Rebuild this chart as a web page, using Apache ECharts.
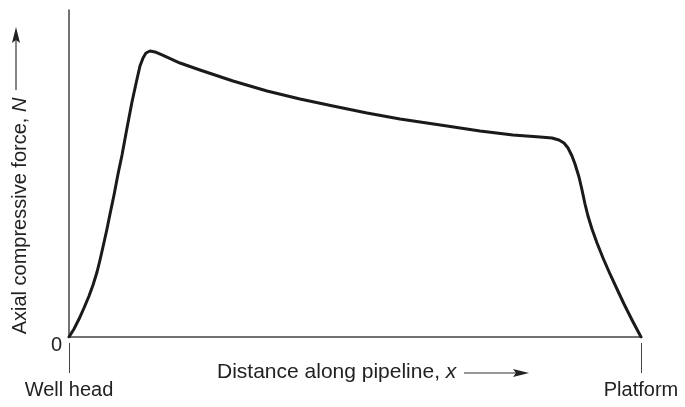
<!DOCTYPE html>
<html><head><meta charset="utf-8">
<script src="https://cdn.jsdelivr.net/npm/echarts@6/dist/echarts.min.js"></script>
<style>html,body{margin:0;padding:0;background:#fff}#c{width:685px;height:407px}</style>
</head><body><div id="c"></div>
<script>
// Distance along pipeline (0 = well head, 100 = platform), arbitrary units
const distance = [0, 0.87, 1.75, 2.62, 3.50, 4.20, 4.90, 5.42, 5.94, 6.64, 7.17, 7.87, 8.57, 9.27, 10.14, 11.01, 11.89, 12.41, 12.94, 13.46, 14.16, 15.03, 16.26, 19.41, 22.90, 28.67, 34.62, 40.38, 46.15, 52.10, 57.87, 66.08, 71.85, 77.62, 82.34, 84.44, 85.66, 86.54, 87.24, 87.94, 88.46, 89.16, 89.69, 90.21, 90.73, 91.43, 92.31, 93.36, 94.58, 95.80, 97.03, 98.43, 100];
// Axial compressive force N, arbitrary units (axis top = 100)
const force = [0, 2.45, 5.50, 8.87, 12.54, 15.90, 19.88, 23.55, 27.52, 33.03, 37.61, 43.43, 49.85, 55.66, 63.91, 71.87, 78.90, 82.87, 85.32, 86.85, 87.46, 87.16, 86.24, 83.79, 81.65, 78.29, 75.23, 72.78, 70.64, 68.50, 66.67, 64.53, 63.00, 61.77, 61.16, 60.86, 60.24, 59.33, 57.80, 55.35, 52.91, 48.93, 44.95, 40.67, 37.00, 33.03, 28.75, 24.16, 19.27, 14.68, 10.09, 5.20, 0];
const xTickValues = [0, 100];
const xTickLabels = ['Well head', 'Platform'];
const yTickValues = [0];
const yTickLabels = ['0'];
const xTitle = 'Distance along pipeline, ';
const xSymbol = 'x';
const yTitle = 'Axial compressive force, ';
const ySymbol = 'N';

const chart = echarts.init(document.getElementById('c'));
const txt = '#222';
const font = 'Liberation Sans, Arial, sans-serif';
const axisCol = '#444';
chart.setOption({
  animation: false,
  backgroundColor: '#fff',
  grid: { left: 69, right: 44, top: 10, bottom: 70 },
  xAxis: [{
    type: 'value', min: 0, max: 100, interval: 100,
    axisLine: { show: true, lineStyle: { color: axisCol, width: 1.5 } },
    axisTick: { show: false }, axisLabel: { show: false }, splitLine: { show: false }
  }, {
    type: 'value', min: 0, max: 100, interval: 100, position: 'bottom', offset: 6,
    axisLine: { show: false },
    axisTick: { show: true, length: 30, lineStyle: { color: axisCol, width: 1 } },
    axisLabel: {
      show: true, margin: 37, fontSize: 20, fontFamily: font, color: txt,
      verticalAlign: 'top', lineHeight: 20, showMinLabel: true, showMaxLabel: true,
      formatter: v => { const i = xTickValues.indexOf(v); return i >= 0 ? xTickLabels[i] : ''; }
    },
    splitLine: { show: false }
  }],
  yAxis: {
    type: 'value', min: 0, max: 100, interval: 100,
    axisLine: { show: true, lineStyle: { color: axisCol, width: 1.5 } },
    axisTick: { show: false }, splitLine: { show: false },
    axisLabel: {
      margin: 7, fontSize: 20, fontFamily: font, color: txt, verticalAlign: 'top', lineHeight: 16,
      formatter: v => { const i = yTickValues.indexOf(v); return i >= 0 ? yTickLabels[i] : ''; }
    }
  },
  series: [{
    type: 'line', xAxisIndex: 0,
    data: distance.map((d, i) => [d, force[i]]),
    smooth: false, showSymbol: false, symbol: 'none',
    lineStyle: { color: '#1a1a1a', width: 3, join: 'round', cap: 'round' }
  }],
  graphic: [
    { type: 'text', x: 20, y: 216, rotation: Math.PI / 2,
      style: { text: '{a|' + yTitle + '}{b|' + ySymbol + '}', align: 'center', verticalAlign: 'middle',
        rich: { a: { fontSize: 20, fontFamily: font, fill: txt }, b: { fontSize: 20, fontFamily: font, fill: txt, fontStyle: 'italic' } } } },
    { type: 'line', shape: { x1: 16, y1: 90, x2: 16, y2: 38 }, style: { stroke: '#333', lineWidth: 1.2 } },
    { type: 'polygon', shape: { points: [[16, 27], [12, 43], [16, 40], [20, 43]] }, style: { fill: '#222' } },
    { type: 'text', x: 217, y: 372,
      style: { text: '{a|' + xTitle + '}{b|' + xSymbol + '}', align: 'left', verticalAlign: 'middle',
        rich: { a: { fontSize: 21, fontFamily: font, fill: txt }, b: { fontSize: 21, fontFamily: font, fill: txt, fontStyle: 'italic' } } } },
    { type: 'line', shape: { x1: 464, y1: 373, x2: 518, y2: 373 }, style: { stroke: '#333', lineWidth: 1.2 } },
    { type: 'polygon', shape: { points: [[529, 373], [513, 369], [516, 373], [513, 377]] }, style: { fill: '#222' } }
  ]
});
</script></body></html>
